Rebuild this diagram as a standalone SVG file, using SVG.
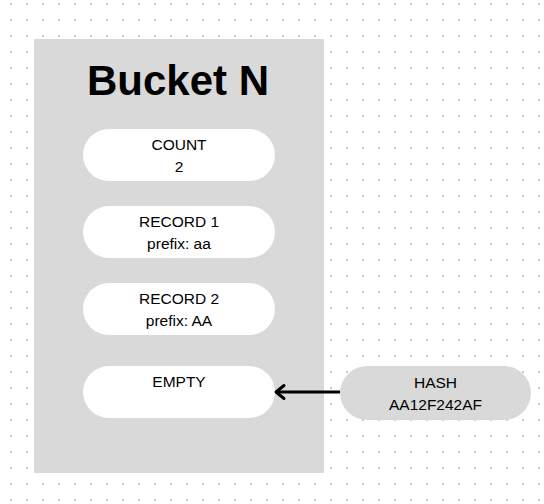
<svg xmlns="http://www.w3.org/2000/svg" width="544" height="504" viewBox="0 0 544 504">
  <defs>
    <pattern id="dots" x="0" y="0" width="16" height="16" patternUnits="userSpaceOnUse">
      <rect x="10" y="3" width="2" height="2" fill="#c9c9d9"/>
    </pattern>
    <marker id="arrow" markerWidth="14" markerHeight="18" refX="11" refY="9" orient="auto" markerUnits="userSpaceOnUse">
      <path d="M3,2.5 L11,9 L3,15.5" fill="none" stroke="#000" stroke-width="3" stroke-linecap="round" stroke-linejoin="round"/>
    </marker>
  </defs>
  <style>
    .pill { fill: #ffffff; }
    .pill-grey { fill: #d9d9d9; }
    .label { font-family: "Liberation Sans", Arial, sans-serif; font-size: 15.5px; fill: #000; text-anchor: middle; }
    .title { font-family: "Liberation Sans", Arial, sans-serif; font-size: 42px; font-weight: bold; fill: #000; text-anchor: middle; }
  </style>
  <rect width="544" height="504" fill="#ffffff"/>
  <rect width="544" height="504" fill="url(#dots)"/>

  <g id="bucket">
    <rect x="34" y="39" width="290" height="434" fill="#d9d9d9"/>
    <text class="title" x="178" y="95">Bucket N</text>
  </g>

  <g id="count">
    <rect class="pill" x="83" y="129" width="192" height="52" rx="26"/>
    <text class="label" x="179" y="150">COUNT</text>
    <text class="label" x="179" y="172">2</text>
  </g>

  <g id="record1">
    <rect class="pill" x="83" y="206" width="192" height="52" rx="26"/>
    <text class="label" x="179" y="227">RECORD 1</text>
    <text class="label" x="179" y="249">prefix: aa</text>
  </g>

  <g id="record2">
    <rect class="pill" x="83" y="283" width="192" height="52" rx="26"/>
    <text class="label" x="179" y="304">RECORD 2</text>
    <text class="label" x="179" y="326">prefix: AA</text>
  </g>

  <g id="empty">
    <rect class="pill" x="83" y="366" width="192" height="52" rx="26"/>
    <text class="label" x="179" y="387">EMPTY</text>
  </g>

  <g id="hash">
    <rect class="pill-grey" x="340" y="366" width="191" height="54" rx="27"/>
    <text class="label" x="435.5" y="388">HASH</text>
    <text class="label" x="435.5" y="410">AA12F242AF</text>
  </g>

  <g id="connectors">
    <line x1="340" y1="392" x2="276" y2="392" stroke="#000" stroke-width="3" marker-end="url(#arrow)"/>
  </g>
</svg>
